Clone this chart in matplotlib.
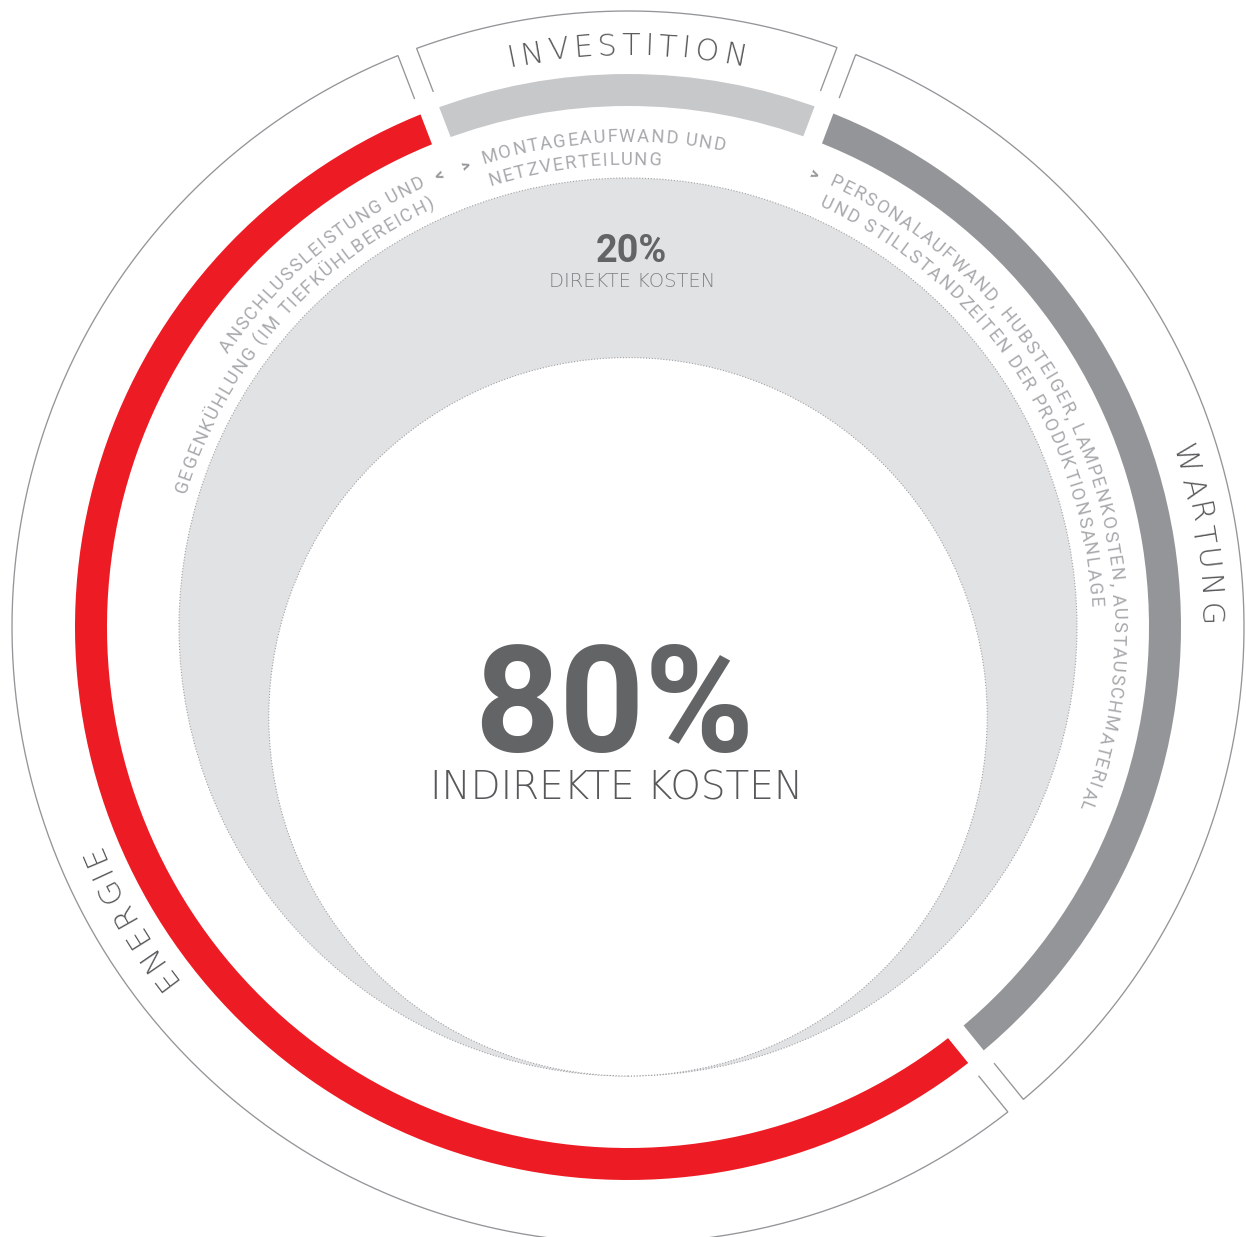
import numpy as np
import matplotlib
matplotlib.use("Agg")
import matplotlib.pyplot as plt
from matplotlib.font_manager import FontProperties
from matplotlib.patches import Circle

# ---------------------------------------------------------------- data
categories = ["ENERGIE", "INVESTITION", "WARTUNG"]
shares = [55.0, 11.6, 33.4]            # share of life-cycle cost, %
ring_colors = ["#ED1C24", "#C7C8CA", "#939598"]
details = [
    ["ANSCHLUSSLEISTUNG UND", "GEGENKÜHLUNG (IM TIEFKÜHLBEREICH)"],
    ["MONTAGEAUFWAND UND", "NETZVERTEILUNG"],
    ["PERSONALAUFWAND, HUBSTEIGER, LAMPENKOSTEN, AUSTAUSCHMATERIAL",
     "UND STILLSTANDZEITEN DER PRODUKTIONSANLAGE"],
]
indirect_pct = 80
direct_pct = 20
indirect_label = "INDIREKTE KOSTEN"
direct_label = "DIREKTE KOSTEN"

# ---------------------------------------------------------------- layout
W, H, DPI = 1246, 1237, 100
CX, CY = 628.0, H - 627.0
START = 309.0             # angle where the first segment begins (clockwise)
R_RING, RING_W = 553.0, 32.0
GAP_HALF = 10.0           # half width of the straight gaps
R_FRAME_IN, R_FRAME_OUT = 570.0, 616.0
R_LABEL = 572.0
R_DISC = 449.0
R_LINE1, R_LINE2 = 485.0, 462.0
TEXT_OFFSET = 31.0        # arc distance of the detail text from a gap
MARK_OFFSET = 14.0
detail_anchor = ["end", "start", "start"]

DARK = "#58595B"
LIGHT = "#A7A9AC"
FRAME = "#939598"
DISC = "#E1E2E3"

FAMILY = ["Roboto", "DejaVu Sans"]
WIDE = ["DejaVu Sans"]

fig = plt.figure(figsize=(W / DPI, H / DPI), dpi=DPI)
ax = fig.add_axes([0, 0, 1, 1])
renderer = fig.canvas.get_renderer()

# ---------------------------------------------------------------- ring
ax.pie(shares, radius=R_RING, center=(CX, CY), startangle=START,
       counterclock=False, colors=ring_colors,
       wedgeprops=dict(width=RING_W, linewidth=0))
ax.set_xlim(0, W)
ax.set_ylim(0, H)
ax.set_aspect("equal")
ax.axis("off")

bounds = START - 3.6 * np.concatenate([[0], np.cumsum(shares)])


def u(a):
    a = np.radians(a)
    return np.array([np.cos(a), np.sin(a)])


def n(a):
    a = np.radians(a)
    return np.array([-np.sin(a), np.cos(a)])


px2pt = 72.0 / DPI
C = np.array([CX, CY])

# straight gaps between ring segments
for g in bounds[:-1]:
    p1 = C + (R_RING - RING_W - 6) * u(g)
    p2 = C + (R_RING + 6) * u(g)
    ax.plot([p1[0], p2[0]], [p1[1], p2[1]], color="white",
            lw=2 * GAP_HALF * px2pt, solid_capstyle="butt", zorder=3)

# outline frames around the category names
for i in range(len(shares)):
    hi, lo = bounds[i], bounds[i + 1]
    r_out_side = np.sqrt(R_FRAME_OUT ** 2 - GAP_HALF ** 2)
    da = np.degrees(np.arcsin(GAP_HALF / R_FRAME_OUT))
    pts = [C + R_FRAME_IN * u(hi) - GAP_HALF * n(hi),
           C + r_out_side * u(hi) - GAP_HALF * n(hi)]
    for a in np.linspace(hi - da, lo + da, 300):
        pts.append(C + R_FRAME_OUT * u(a))
    pts += [C + r_out_side * u(lo) + GAP_HALF * n(lo),
            C + R_FRAME_IN * u(lo) + GAP_HALF * n(lo)]
    pts = np.array(pts)
    ax.plot(pts[:, 0], pts[:, 1], color=FRAME, lw=0.95, zorder=4,
            solid_joinstyle="miter")

# ---------------------------------------------------------------- discs
ax.add_patch(Circle((CX, CY), R_DISC, facecolor=DISC, edgecolor="none", zorder=1))
ax.add_patch(Circle((CX, CY), R_DISC, facecolor="none", edgecolor="#9FA1A4",
                    lw=0.8, ls=(0, (1, 1.6)), zorder=2))
r_small = R_DISC * indirect_pct / 100.0
c_small = (CX, CY - R_DISC + r_small)
ax.add_patch(Circle(c_small, r_small, facecolor="white", edgecolor="none", zorder=2))
ax.add_patch(Circle(c_small, r_small, facecolor="none", edgecolor="#9FA1A4",
                    lw=0.8, ls=(0, (1, 1.6)), zorder=2))

# ---------------------------------------------------------------- curved text
_w_cache = {}


def ink_width(s, prop):
    key = (s, prop.get_family()[0], prop.get_weight(), prop.get_size_in_points())
    if key not in _w_cache:
        _w_cache[key] = renderer.get_text_width_height_descent(s, prop, ismath=False)[0]
    return _w_cache[key]


def arc_text(s, r, theta, align, prop, color, tracking, z=6):
    """Characters of s set along a circle, tops outward, reading clockwise."""
    total = ink_width(s, prop) + tracking * (len(s) - 1)
    start = {"center": -total / 2, "start": 0.0, "end": -total}[align]
    for i, ch in enumerate(s):
        if ch == " ":
            continue
        centre = ink_width(s[:i + 1], prop) - ink_width(ch, prop) / 2 + i * tracking
        ang = theta - np.degrees((start + centre) / r)
        p = C + r * u(ang)
        ax.text(p[0], p[1], ch, rotation=ang - 90, rotation_mode="anchor",
                ha="center", va="baseline", fontproperties=prop,
                color=color, zorder=z)


label_prop = FontProperties(family=WIDE, weight="light", size=21.8)
detail_prop = FontProperties(family=FAMILY, weight="normal", size=13.2)
mark_prop = FontProperties(family=FAMILY, weight="bold", size=12)

for i, cat in enumerate(categories):
    hi, lo = bounds[i], bounds[i + 1]
    arc_text(cat, R_LABEL, (hi + lo) / 2, "center", label_prop, DARK, 4.5)

    if detail_anchor[i] == "start":
        th = hi - np.degrees(TEXT_OFFSET / R_LINE1)
        tm = hi - np.degrees(MARK_OFFSET / R_LINE1)
        arc_text(">", R_LINE1, tm, "center", mark_prop, FRAME, 0)
    else:
        th = lo + np.degrees(TEXT_OFFSET / R_LINE1)
        tm = lo + np.degrees(MARK_OFFSET / R_LINE1)
        arc_text("<", R_LINE1, tm, "center", mark_prop, FRAME, 0)
    for line, r in zip(details[i], (R_LINE1, R_LINE2)):
        arc_text(line, r, th, detail_anchor[i], detail_prop, LIGHT, 1.6)

# ---------------------------------------------------------------- centre text
ax.text(614, H - 752, f"{indirect_pct}%", ha="center", va="baseline",
        fontsize=107, fontweight="bold", family=FAMILY, color="#636466", zorder=6)
ax.text(617, H - 800, indirect_label, ha="center", va="baseline",
        fontsize=28, fontweight="light", family=WIDE, color=DARK, zorder=6)
ax.text(631, H - 262, f"{direct_pct}%", ha="center", va="baseline",
        fontsize=27.3, fontweight="bold", family=FAMILY, color="#636466", zorder=6)
ax.text(632, H - 287, direct_label, ha="center", va="baseline",
        fontsize=14, fontweight="light", family=WIDE, color="#808285", zorder=6)

fig.savefig("out.png", dpi=DPI, facecolor="white")
